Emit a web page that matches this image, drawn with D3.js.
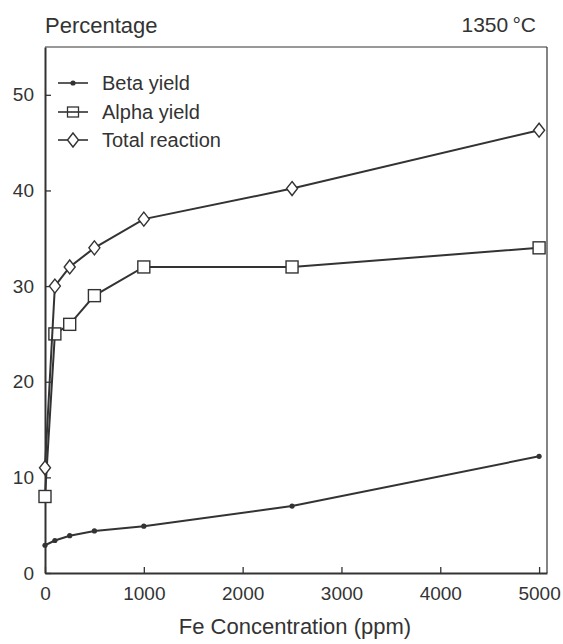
<!DOCTYPE html>
<html><head><meta charset="utf-8">
<script src="https://cdn.jsdelivr.net/npm/d3@7"></script>
<style>body{margin:0;background:#fff}svg{display:block}text{font-family:"Liberation Sans",Arial,sans-serif;fill:#333}</style>
</head><body><svg id="c" width="563" height="644"></svg>
<script>
const concentrations = [0, 100, 250, 500, 1000, 2500, 5000];
const betaYield = [2.9, 3.4, 3.9, 4.4, 4.9, 7.0, 12.2];
const alphaYield = [8.0, 25.0, 26.0, 29.0, 32.0, 32.0, 34.0];
const totalReaction = [11.0, 30.0, 32.0, 34.0, 37.0, 40.2, 46.3];
const xTicks = [0, 1000, 2000, 3000, 4000, 5000];
const yTicks = [0, 10, 20, 30, 40, 50];
const seriesNames = ["Beta yield", "Alpha yield", "Total reaction"];

const ink = "#333";
const svg = d3.select("#c");
const x = d3.scaleLinear().domain([0, 5080]).range([45, 547]);
const y = d3.scaleLinear().domain([0, 55]).range([573, 47]);

// frame top/right
svg.append("line").attr("x1", x(0)).attr("x2", x(5080)).attr("y1", y(55)).attr("y2", y(55)).attr("stroke", ink).attr("stroke-width", 1.2);
svg.append("line").attr("x1", x(5080)).attr("x2", x(5080)).attr("y1", y(55)).attr("y2", y(0)).attr("stroke", ink).attr("stroke-width", 1.2);

const xAxis = svg.append("g").attr("transform", `translate(0,${y(0)})`)
  .call(d3.axisBottom(x).tickValues(xTicks).tickSizeInner(-6).tickSizeOuter(0).tickPadding(14).tickFormat(d3.format("d")));
const yAxis = svg.append("g").attr("transform", `translate(${x(0)},0)`)
  .call(d3.axisLeft(y).tickValues(yTicks).tickSizeInner(-6).tickSizeOuter(0).tickPadding(11).tickFormat(d3.format("d")));
[xAxis, yAxis].forEach(a => {
  a.select(".domain").attr("stroke", ink).attr("stroke-width", 2);
  a.selectAll(".tick line").attr("stroke", ink).attr("stroke-width", 1.3);
  a.selectAll(".tick text").attr("fill", ink).style("font-size", "19px");
});
xAxis.selectAll(".tick text").attr("dy", "0.71em");

svg.append("text").attr("x", 45).attr("y", 33).style("font-size", "22px").text("Percentage");
svg.append("text").attr("x", 536).attr("y", 32).attr("text-anchor", "end").style("font-size", "21px").text("1350\u2009\u00B0C");
svg.append("text").attr("x", 295).attr("y", 634).attr("text-anchor", "middle").style("font-size", "22px").text("Fe Concentration (ppm)");

const line = d3.line().x(d => x(d[0])).y(d => y(d[1]));
const series = [betaYield, alphaYield, totalReaction];
const kinds = ["dot", "square", "diamond"];

function marker(g, kind, cx, cy) {
  if (kind === "dot") {
    g.append("circle").attr("cx", cx).attr("cy", cy).attr("r", 2.6).attr("fill", ink);
  } else if (kind === "square") {
    g.append("rect").attr("x", cx - 6).attr("y", cy - 6).attr("width", 12).attr("height", 12)
      .attr("fill", "#fff").attr("stroke", ink).attr("stroke-width", 1.4);
  } else {
    g.append("path").attr("d", `M${cx},${cy - 7}L${cx + 5.5},${cy}L${cx},${cy + 7}L${cx - 5.5},${cy}Z`)
      .attr("fill", "#fff").attr("stroke", ink).attr("stroke-width", 1.4);
  }
}

series.forEach((vals, i) => {
  const pts = concentrations.map((c, j) => [c, vals[j]]);
  svg.append("path").datum(pts).attr("d", line).attr("fill", "none").attr("stroke", ink).attr("stroke-width", 2);
  const g = svg.append("g");
  pts.forEach(p => marker(g, kinds[i], x(p[0]), y(p[1])));
});

// legend
const legendY = [83, 112, 140];
seriesNames.forEach((name, i) => {
  const g = svg.append("g");
  g.append("line").attr("x1", 58).attr("x2", 88).attr("y1", legendY[i]).attr("y2", legendY[i]).attr("stroke", ink).attr("stroke-width", 1.6);
  if (kinds[i] === "square") {
    g.append("rect").attr("x", 67.5).attr("y", legendY[i] - 5).attr("width", 11).attr("height", 10).attr("fill", "none").attr("stroke", ink).attr("stroke-width", 1.3);
  } else marker(g, kinds[i], 73, legendY[i]);
  g.append("text").attr("x", 102).attr("y", legendY[i]).attr("dy", "0.35em").style("font-size", "20px").text(name);
});
</script></body></html>
